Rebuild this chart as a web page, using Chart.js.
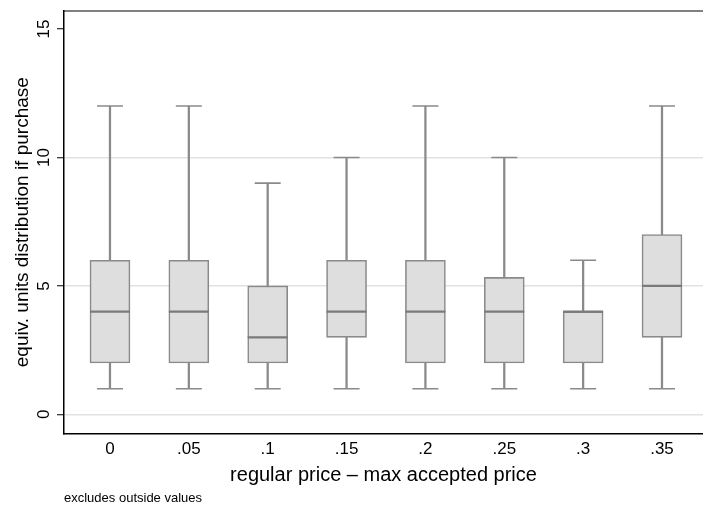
<!DOCTYPE html>
<html>
<head>
<meta charset="utf-8">
<script src="https://cdn.jsdelivr.net/npm/chart.js@4/dist/chart.umd.min.js"></script>
<style>
  html, body { margin: 0; padding: 0; background: #fff; }
  #wrap { width: 703px; height: 506px; position: relative; }
</style>
</head>
<body>
<div id="wrap"><canvas id="c" width="703" height="506"></canvas></div>
<script>
const categories = ['0', '.05', '.1', '.15', '.2', '.25', '.3', '.35'];
const lowWhisker  = [1, 1, 1, 1, 1, 1, 1, 1];
const q1          = [2, 2, 2, 3, 2, 2, 2, 3];
const median      = [4, 4, 3, 4, 4, 4, 4, 5];
const q3          = [6, 6, 5, 6, 6, 5.33, 4, 7];
const highWhisker = [12, 12, 9, 10, 12, 10, 6, 12];
const yTicks = [0, 5, 10, 15];
const yGridValues = [0, 5, 10];

const FONT = '"Liberation Sans", Arial, sans-serif';
const GREY = '#8a8a8a';

const idx = categories.map((_, i) => i);

const data = {
  datasets: [
    {
      type: 'line', label: 'median', order: 0,
      data: idx.map(i => ({x: i, y: median[i]})),
      showLine: false, pointStyle: 'line', pointRadius: 20,
      pointBorderWidth: 2.2, borderColor: '#7a7a7a', backgroundColor: '#7a7a7a'
    },
    {
      type: 'line', label: 'caps low', order: 0,
      data: idx.map(i => ({x: i, y: lowWhisker[i]})),
      showLine: false, pointStyle: 'line', pointRadius: 13,
      pointBorderWidth: 1.6, borderColor: GREY, backgroundColor: GREY
    },
    {
      type: 'line', label: 'caps high', order: 0,
      data: idx.map(i => ({x: i, y: highWhisker[i]})),
      showLine: false, pointStyle: 'line', pointRadius: 13,
      pointBorderWidth: 1.6, borderColor: GREY, backgroundColor: GREY
    },
    {
      type: 'bar', label: 'box', order: 1,
      data: idx.map(i => ({x: i, y: [q1[i], q3[i]]})),
      backgroundColor: '#dedede', borderColor: GREY, borderWidth: 1.6,
      borderSkipped: false, barThickness: 40, grouped: false
    },
    {
      type: 'bar', label: 'whisker', order: 2,
      data: idx.map(i => ({x: i, y: [lowWhisker[i], highWhisker[i]]})),
      backgroundColor: GREY, borderWidth: 0,
      barThickness: 1.6, grouped: false
    }
  ]
};

new Chart(document.getElementById('c'), {
  type: 'bar',
  data,
  options: {
    responsive: false,
    animation: false,
    events: [],
    layout: { autoPadding: false, padding: { top: 11, right: 0, bottom: 0, left: 0 } },
    plugins: {
      legend: { display: false },
      tooltip: { enabled: false },
      subtitle: {
        display: true, position: 'bottom', align: 'start', fullSize: false,
        text: 'excludes outside values',
        color: '#000', font: { family: FONT, size: 13, weight: 'normal' },
        padding: { top: 0, bottom: 0 }
      }
    },
    scales: {
      x: {
        type: 'linear', position: 'bottom', offset: false,
        min: -0.583, max: 7.52,
        afterBuildTicks: s => { s.ticks = idx.map(v => ({value: v})); },
        afterFit: s => { s.height = 57; s.paddingLeft = 0; s.paddingRight = 0; },
        ticks: {
          callback: v => categories[v],
          color: '#000', font: { family: FONT, size: 17 },
          padding: 6, maxRotation: 0, minRotation: 0
        },
        grid: { offset: false, drawOnChartArea: false, drawTicks: false },
        border: { display: true, color: '#000', width: 1.5 },
        title: {
          display: true, text: 'regular price – max accepted price',
          color: '#000', font: { family: FONT, size: 20 },
          padding: { top: 0, bottom: 3 }
        }
      },
      x2: {
        type: 'linear', position: 'top', min: 0, max: 1, offset: false,
        afterFit: s => { s.height = 0; s.paddingLeft = 0; s.paddingRight = 0; },
        ticks: { display: false },
        grid: { display: false, drawTicks: false },
        border: { display: true, color: '#808080', width: 2 }
      },
      y: {
        type: 'linear', position: 'left',
        min: -0.74, max: 15.7,
        afterBuildTicks: s => { s.ticks = yTicks.map(v => ({value: v})); },
        afterFit: s => { s.width = 64; s.paddingTop = 0; s.paddingBottom = 0; },
        ticks: {
          color: '#000', font: { family: FONT, size: 17 },
          minRotation: 90, maxRotation: 90, crossAlign: 'center', padding: 3
        },
        grid: {
          color: ctx => (ctx.tick && yGridValues.includes(ctx.tick.value)) ? '#e2e2e2' : 'rgba(0,0,0,0)',
          lineWidth: 1.5, tickLength: 7, tickColor: '#000', tickWidth: 1
        },
        border: { display: true, color: '#000', width: 1.5 },
        title: {
          display: true, text: 'equiv. units distribution if purchase',
          color: '#000', font: { family: FONT, size: 19 },
          padding: { top: 11, bottom: 0 }
        }
      }
    }
  }
});
</script>
</body>
</html>
